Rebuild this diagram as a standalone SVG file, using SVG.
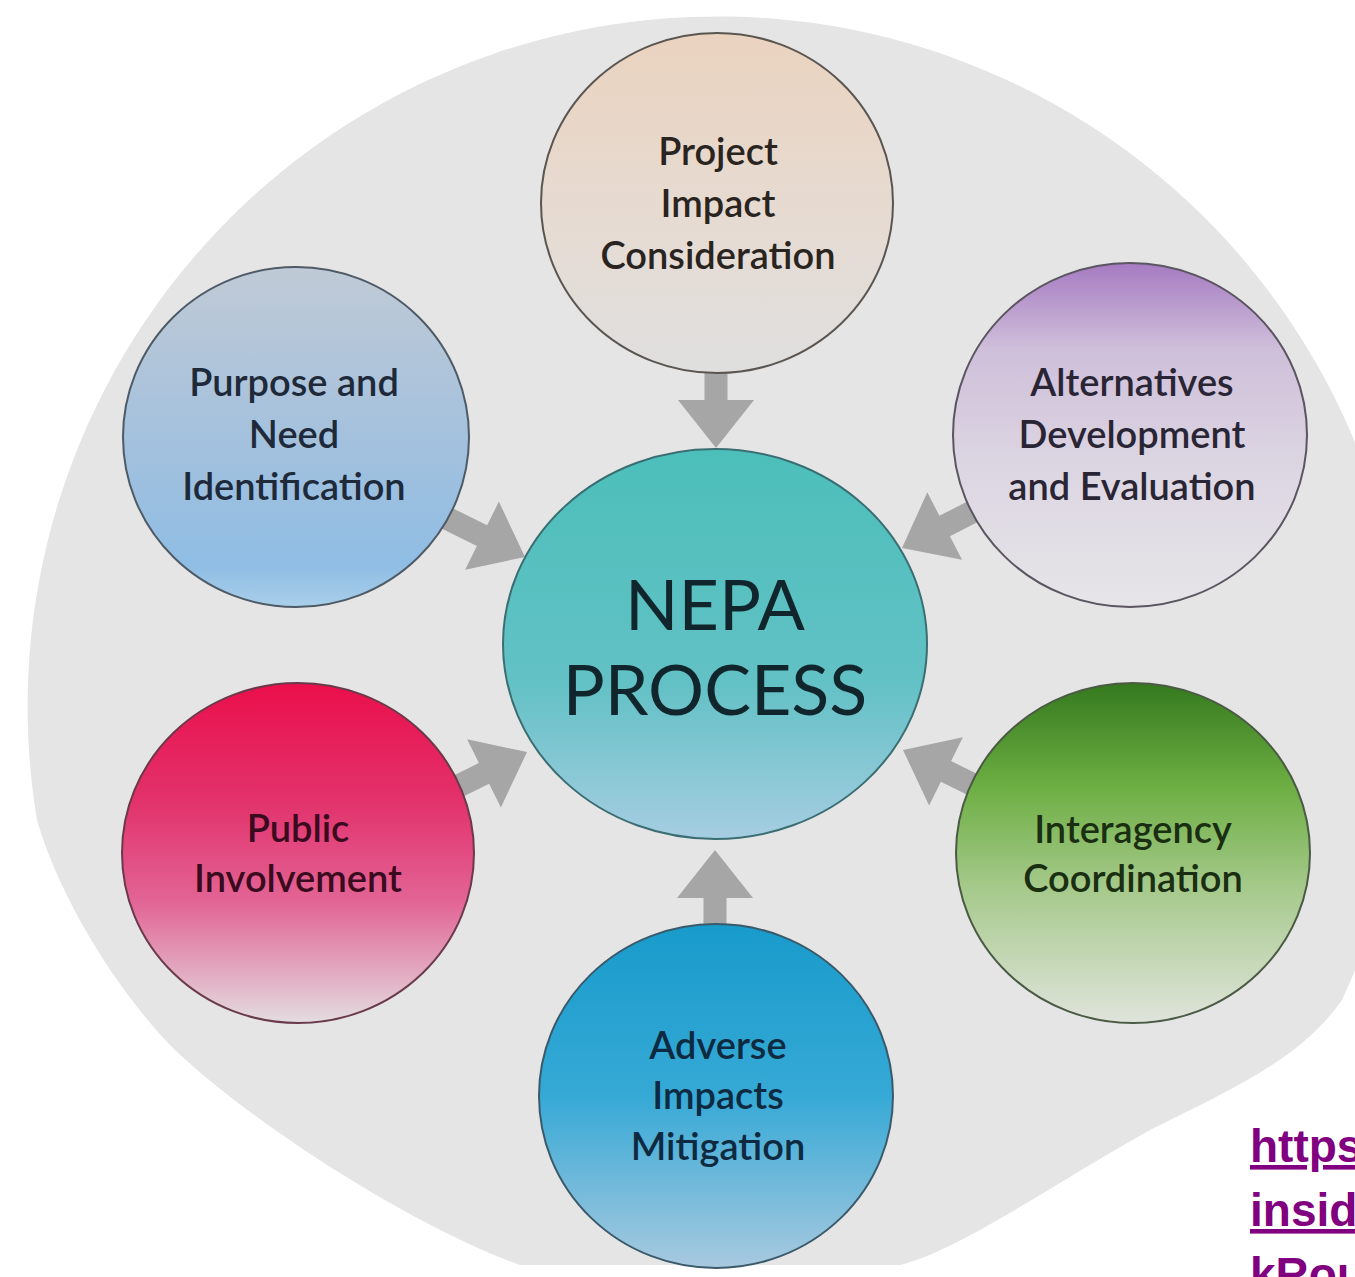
<svg xmlns="http://www.w3.org/2000/svg" xmlns:xlink="http://www.w3.org/1999/xlink" width="1355" height="1277" viewBox="0 0 1355 1277">
<style>
.lbl{font-family:Lato,"Open Sans","Liberation Sans",sans-serif;font-size:38px;text-anchor:middle;font-weight:600}
.big{font-family:Lato,"Open Sans","Liberation Sans",sans-serif;font-size:70px;text-anchor:middle;fill:#10262c}
.node{stroke-width:2}
.link{font-family:"Liberation Sans",Arial,sans-serif;font-weight:bold;font-size:46px;fill:#800080;text-decoration:underline}
.arr{fill:#a6a6a6}
</style>
<defs>
<path id="arrow" d="M -11.5 -110 L 11.5 -110 L 11.5 -48 L 38 -48 L 0 0 L -38 -48 L -11.5 -48 Z"/>
<linearGradient id="gProj" x1="0" y1="0" x2="0" y2="1"><stop offset="0" stop-color="#ead3bf"/><stop offset="0.55" stop-color="#e6dbd2"/><stop offset="1" stop-color="#dfdfdf"/></linearGradient>
<linearGradient id="gPurp" x1="0" y1="0" x2="0" y2="1"><stop offset="0" stop-color="#c0cad6"/><stop offset="0.5" stop-color="#a4c1dd"/><stop offset="0.88" stop-color="#8fbde4"/><stop offset="1" stop-color="#a9cfea"/></linearGradient>
<linearGradient id="gAlt" x1="0" y1="0" x2="0" y2="1"><stop offset="0" stop-color="#a67bc2"/><stop offset="0.25" stop-color="#cfbfda"/><stop offset="0.6" stop-color="#dcd6e2"/><stop offset="1" stop-color="#e6e5e8"/></linearGradient>
<linearGradient id="gPub" x1="0" y1="0" x2="0" y2="1"><stop offset="0" stop-color="#ea0f4b"/><stop offset="0.35" stop-color="#e2326c"/><stop offset="0.65" stop-color="#e26696"/><stop offset="1" stop-color="#e3dde0"/></linearGradient>
<linearGradient id="gInt" x1="0" y1="0" x2="0" y2="1"><stop offset="0" stop-color="#34791e"/><stop offset="0.3" stop-color="#6cae42"/><stop offset="0.6" stop-color="#a5c98a"/><stop offset="1" stop-color="#e0e4dc"/></linearGradient>
<linearGradient id="gAdv" x1="0" y1="0" x2="0" y2="1"><stop offset="0" stop-color="#189bcb"/><stop offset="0.5" stop-color="#36a9d6"/><stop offset="1" stop-color="#a8c9df"/></linearGradient>
<linearGradient id="gNepa" x1="0" y1="0" x2="0" y2="1"><stop offset="0" stop-color="#4cbfba"/><stop offset="0.6" stop-color="#62c1c5"/><stop offset="1" stop-color="#a6cde2"/></linearGradient>
</defs>
<rect width="1355" height="1277" fill="#ffffff"/>
<path id="background" d="M 37 820 A 690 690 0 1 1 1342 1000 C 1300 1060 1230 1090 1150 1130 C 1060 1180 960 1250 900 1265 L 520 1265 C 420 1230 260 1130 175 1050 C 120 995 60 900 37 820 Z" fill="#e5e5e5"/>
<g id="connectors" class="arr">
<use xlink:href="#arrow" href="#arrow" transform="translate(716,448)"/>
<use xlink:href="#arrow" href="#arrow" transform="translate(715,850) rotate(180)"/>
<use xlink:href="#arrow" href="#arrow" transform="translate(525,557) rotate(-63.6)"/>
<use xlink:href="#arrow" href="#arrow" transform="translate(902,548) rotate(62.8)"/>
<use xlink:href="#arrow" href="#arrow" transform="translate(527,752) rotate(-116.4)"/>
<use xlink:href="#arrow" href="#arrow" transform="translate(903,750) rotate(116.4)"/>
</g>
<g id="node-project">
<ellipse class="node" cx="717" cy="203" rx="176" ry="170" fill="url(#gProj)" stroke="#5a5550"/>
<text class="lbl" fill="#2a2420"><tspan x="718" y="165">Project</tspan><tspan x="718" y="217">Impact</tspan><tspan x="718" y="269">Consideration</tspan></text>
</g>
<g id="node-purpose">
<ellipse class="node" cx="296" cy="437" rx="173" ry="170" fill="url(#gPurp)" stroke="#4e5a66"/>
<text class="lbl" fill="#1e2a3a"><tspan x="294" y="396">Purpose and</tspan><tspan x="294" y="448">Need</tspan><tspan x="294" y="500">Identification</tspan></text>
</g>
<g id="node-alternatives">
<ellipse class="node" cx="1130" cy="435" rx="177" ry="172" fill="url(#gAlt)" stroke="#5a5560"/>
<text class="lbl" fill="#2a2535"><tspan x="1132" y="396">Alternatives</tspan><tspan x="1132" y="448">Development</tspan><tspan x="1132" y="500">and Evaluation</tspan></text>
</g>
<g id="node-public">
<ellipse class="node" cx="298" cy="853" rx="176" ry="170" fill="url(#gPub)" stroke="#6a3a4a"/>
<text class="lbl" fill="#3a0a1e"><tspan x="298" y="842">Public</tspan><tspan x="298" y="892">Involvement</tspan></text>
</g>
<g id="node-interagency">
<ellipse class="node" cx="1133" cy="853" rx="177" ry="170" fill="url(#gInt)" stroke="#4a5a44"/>
<text class="lbl" fill="#1a2e12"><tspan x="1133" y="843">Interagency</tspan><tspan x="1133" y="892">Coordination</tspan></text>
</g>
<g id="node-adverse">
<ellipse class="node" cx="716" cy="1096" rx="177" ry="172" fill="url(#gAdv)" stroke="#3a5a6a"/>
<text class="lbl" fill="#0e2a40"><tspan x="718" y="1059">Adverse</tspan><tspan x="718" y="1109">Impacts</tspan><tspan x="718" y="1160">Mitigation</tspan></text>
</g>
<g id="node-nepa">
<ellipse class="node" cx="715" cy="644" rx="212" ry="195" fill="url(#gNepa)" stroke="#3a6e72"/>
<text class="big"><tspan x="715" y="630">NEPA</tspan><tspan x="715" y="715">PROCESS</tspan></text>
</g>
<g id="link">
<text class="link" x="1250" y="1162">https</text>
<text class="link" x="1250" y="1226">insid</text>
<text class="link" x="1250" y="1290">kRou</text>
</g>
</svg>
